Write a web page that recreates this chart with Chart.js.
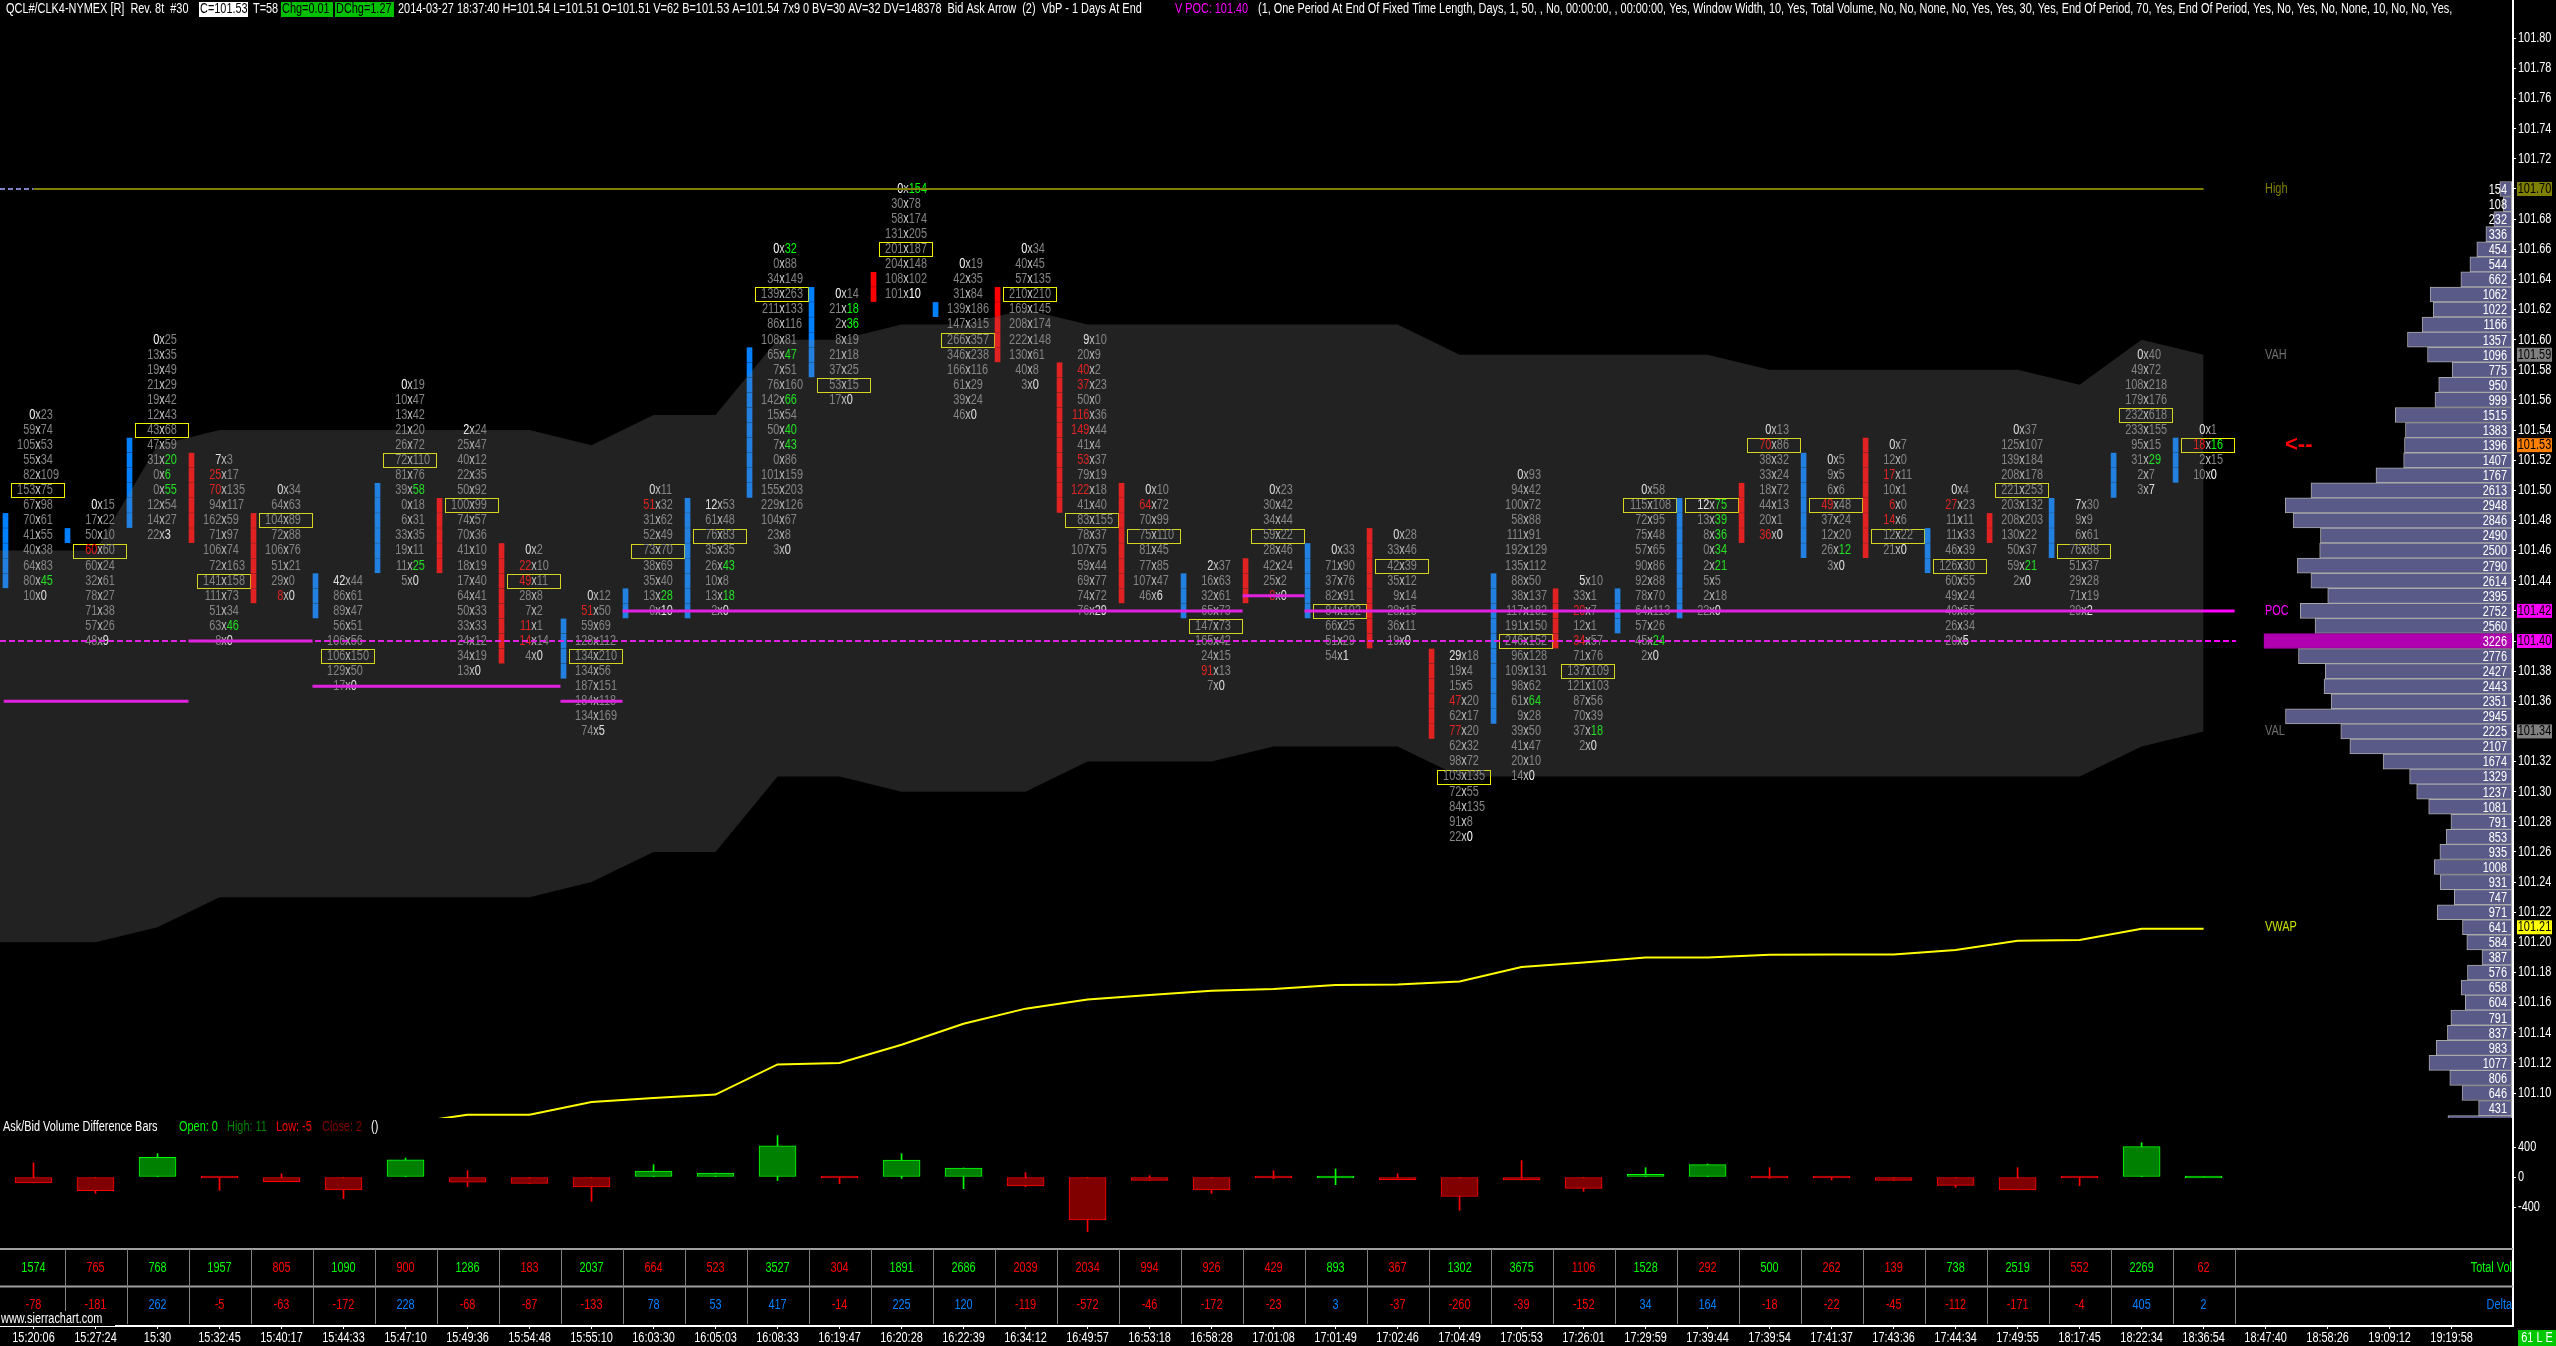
<!DOCTYPE html>
<html lang="en">
  <head>
    <meta charset="UTF-8" />
    <title>QCL#/CLK4-NYMEX</title>
    <script src="https://cdn.jsdelivr.net/npm/chart.js@4"></script>
    <style>
      html, body { margin: 0; padding: 0; background: #000; overflow: hidden; }
      canvas { display: block; }
    </style>
  </head>

  <body>
    <canvas id="myChart" width="2556" height="1346"></canvas>

    <script>
      const timeLabels = ["15:20:06","15:27:24","15:30","15:32:45","15:40:17","15:44:33","15:47:10","15:49:36","15:54:48","15:55:10","16:03:30","16:05:03","16:08:33","16:19:47","16:20:28","16:22:39","16:34:12","16:49:57","16:53:18","16:58:28","17:01:08","17:01:49","17:02:46","17:04:49","17:05:53","17:26:01","17:29:59","17:39:44","17:39:54","17:41:37","17:43:36","17:44:34","17:49:55","18:17:45","18:22:34","18:36:54","18:47:40","18:58:26","19:09:12","19:19:58"];

      // footprint cells, * marks a red bid or a green ask
      const footprintTop = [101.55,101.49,101.60,101.52,101.50,101.44,101.57,101.54,101.46,101.43,101.50,101.49,101.66,101.63,101.70,101.65,101.66,101.60,101.50,101.45,101.50,101.46,101.47,101.39,101.51,101.44,101.50,101.49,101.54,101.52,101.53,101.50,101.54,101.49,101.59,101.54];
      const boxRow = [5,3,6,8,2,5,5,5,2,4,4,2,3,6,4,5,3,12,3,4,3,4,2,8,11,6,1,0,1,3,6,5,4,3,4,1];
      const footprintRows = [
        ["0x23","59x74","105x53","55x34","82x109","153x75","67x98","70x61","41x55","40x38","64x83","80x*45","10x0"],
        ["0x15","17x22","50x10","*60x60","60x24","32x61","78x27","71x38","57x26","48x9"],
        ["0x25","13x35","19x49","21x29","19x42","12x43","43x68","47x59","31x*20","0x*6","0x*55","12x54","14x27","22x3"],
        ["7x3","*25x17","*70x135","94x117","162x59","71x97","106x74","72x163","141x158","111x73","51x34","63x*46","8x0"],
        ["0x34","64x63","104x89","72x88","106x76","51x21","29x0","*8x0"],
        ["42x44","86x61","89x47","56x51","106x56","106x150","129x50","17x0"],
        ["0x19","10x47","13x42","21x20","26x72","72x110","81x76","39x*58","0x18","6x31","33x35","19x11","11x*25","5x0"],
        ["2x24","25x47","40x12","22x35","50x92","100x99","74x57","70x36","41x10","18x19","17x40","64x41","50x33","33x33","24x12","34x19","13x0"],
        ["0x2","*22x10","*49x11","28x8","7x2","*11x1","*14x14","4x0"],
        ["0x12","*51x50","59x69","128x112","134x210","134x56","187x151","184x118","134x169","74x5"],
        ["0x11","*51x32","31x62","52x49","73x70","38x69","35x40","13x*28","0x10"],
        ["12x53","61x48","76x83","35x35","26x*43","10x8","13x*18","2x0"],
        ["0x*32","0x88","34x149","139x263","211x133","86x116","108x81","65x*47","7x51","76x160","142x*66","15x54","50x*40","7x*43","0x86","101x159","155x203","229x126","104x67","23x8","3x0"],
        ["0x14","21x*18","2x*36","8x19","21x18","37x25","53x15","17x0"],
        ["0x*154","30x78","58x174","131x205","201x187","204x148","108x102","101x10"],
        ["0x19","42x35","31x84","139x186","147x315","266x357","346x238","166x116","61x29","39x24","46x0"],
        ["0x34","40x45","57x135","210x210","169x145","208x174","222x148","130x61","40x8","3x0"],
        ["9x10","20x9","*40x2","*37x23","50x0","*116x36","*149x44","41x4","*53x37","79x19","*122x18","41x40","83x155","78x37","107x75","59x44","69x77","74x72","76x29"],
        ["0x10","*64x72","70x99","75x110","81x45","77x85","107x47","46x6"],
        ["2x37","16x63","32x61","65x73","147x73","165x42","24x15","*91x13","7x0"],
        ["0x23","30x42","34x44","59x22","28x46","42x24","25x2","*8x0"],
        ["0x33","71x90","37x76","82x91","84x102","66x25","51x29","54x1"],
        ["0x28","33x46","42x39","35x12","9x14","28x15","36x11","19x0"],
        ["29x18","19x4","15x5","*47x20","62x17","*77x20","62x32","98x72","103x135","72x55","84x135","91x8","22x0"],
        ["0x93","94x42","100x72","58x88","111x91","192x129","135x112","88x50","38x137","117x182","191x150","246x152","96x128","109x131","98x62","61x*64","9x28","39x50","41x47","20x10","14x0"],
        ["5x10","33x1","*20x7","12x1","*34x57","71x76","137x109","121x103","87x56","70x39","37x*18","2x0"],
        ["0x58","115x108","72x95","75x48","57x65","90x86","92x88","78x70","64x113","57x26","45x*24","2x0"],
        ["12x*75","13x*39","8x*36","0x*34","2x*21","5x5","2x18","22x0"],
        ["0x13","*70x86","38x32","33x24","18x72","44x13","20x1","*36x0"],
        ["0x5","9x5","6x6","*49x48","37x24","12x20","26x*12","3x0"],
        ["0x7","12x0","*17x11","10x1","*6x0","*14x6","12x22","21x0"],
        ["0x4","*27x23","11x11","11x33","46x39","126x30","60x55","49x24","40x55","26x34","20x5"],
        ["0x37","125x107","139x184","208x178","221x253","203x132","208x203","130x22","50x37","59x*21","2x0"],
        ["7x30","9x9","6x61","76x88","51x37","29x28","71x19","29x2"],
        ["0x40","49x72","108x218","179x176","232x618","233x155","95x15","31x*29","2x7","3x7"],
        ["0x1","*18x*16","2x15","10x0"]
      ];

      // open/close bodies next to each footprint
      const bodyHigh = [101.48,101.47,101.53,101.52,101.48,101.44,101.50,101.49,101.46,101.41,101.43,101.49,101.59,101.63,101.64,101.62,101.63,101.58,101.50,101.44,101.45,101.46,101.47,101.39,101.44,101.43,101.43,101.49,101.50,101.52,101.53,101.47,101.48,101.49,101.52,101.53];
      const bodyLow = [101.44,101.47,101.48,101.47,101.43,101.42,101.45,101.45,101.39,101.38,101.42,101.42,101.50,101.58,101.63,101.62,101.59,101.49,101.43,101.42,101.43,101.42,101.40,101.34,101.35,101.40,101.41,101.42,101.47,101.46,101.46,101.45,101.47,101.46,101.50,101.51];
      const bodyUp = [1,1,1,0,0,1,1,0,0,1,1,1,1,1,0,1,0,0,0,1,0,1,0,0,1,0,1,1,0,1,0,1,0,1,1,1];

      // value area, POC and VWAP per bar
      const vahByBar = [101.46,101.46,101.53,101.54,101.54,101.54,101.54,101.54,101.54,101.53,101.55,101.55,101.60,101.60,101.61,101.61,101.62,101.61,101.61,101.61,101.61,101.61,101.61,101.59,101.59,101.59,101.59,101.59,101.58,101.58,101.58,101.58,101.58,101.57,101.60,101.59];
      const valByBar = [101.20,101.20,101.21,101.23,101.23,101.23,101.23,101.23,101.23,101.24,101.26,101.26,101.31,101.31,101.30,101.30,101.30,101.32,101.32,101.32,101.33,101.33,101.33,101.31,101.31,101.31,101.31,101.31,101.31,101.31,101.31,101.31,101.31,101.31,101.33,101.34];
      const pocByBar = [101.36,101.36,101.36,101.40,101.40,101.37,101.37,101.37,101.37,101.36,101.42,101.42,101.42,101.42,101.42,101.42,101.42,101.42,101.42,101.42,101.43,101.42,101.42,101.42,101.42,101.42,101.42,101.42,101.42,101.42,101.42,101.42,101.42,101.42,101.42,101.42];
      const vwapBars = [6,7,8,9,10,11,12,13,14,15,16,17,18,19,20,21,22,23,24,25,26,27,28,29,30,31,32,33,34,35];
      const vwapValues = [101.0796,101.0856,101.0856,101.094,101.0967,101.099,101.119,101.12,101.132,101.146,101.156,101.162,101.165,101.1678,101.169,101.1717,101.172,101.174,101.1837,101.1866,101.19,101.19,101.1917,101.192,101.192,101.195,101.201,101.2015,101.209,101.209];
      const highPrice = 101.70;
      const vbpPoc = 101.40;

      // volume by price from 101.70 downwards, last row is cut off by the pane
      const profileVolume = [154,108,232,336,454,544,662,1062,1022,1166,1357,1096,775,950,999,1515,1383,1396,1407,1767,2613,2948,2846,2490,2500,2790,2614,2395,2752,2560,3226,2776,2427,2443,2351,2945,2225,2107,1674,1329,1237,1081,791,853,935,1008,931,747,971,641,584,387,576,658,604,791,837,983,1077,806,646,431,830];
      const profileLabelled = 62;

      // ask/bid difference bars and the two table rows
      const totalVol = [1574,765,768,1957,805,1090,900,1286,183,2037,664,523,3527,304,1891,2686,2039,2034,994,926,429,893,367,1302,3675,1106,1528,292,500,262,139,738,2519,552,2269,62];
      const totalUp = [1,0,1,1,0,1,0,1,0,1,0,0,1,0,1,1,0,0,0,0,0,1,0,1,1,0,1,0,1,0,0,1,1,0,1,0];
      const deltaClose = [-78,-181,262,-5,-63,-172,228,-68,-87,-133,78,53,417,-14,225,120,-119,-572,-46,-172,-23,3,-37,-260,-39,-152,34,164,-18,-22,-45,-112,-171,-4,405,2];
      const deltaHigh = [187,0,311,0,44,0,253,84,0,0,164,53,551,0,311,120,58,0,18,0,84,107,44,0,218,0,124,173,124,0,0,0,124,0,457,2];
      const deltaLow = [-78,-218,0,-178,-63,-289,0,-129,-87,-324,0,0,-49,-89,-18,-155,-130,-728,-46,-218,-23,-102,-37,-444,-39,-191,0,0,-18,-40,-45,-138,-171,-115,0,0];

      const priceTicks = [101.80,101.78,101.76,101.74,101.72,101.70,101.68,101.66,101.64,101.62,101.60,101.58,101.56,101.54,101.52,101.50,101.48,101.46,101.44,101.42,101.40,101.38,101.36,101.34,101.32,101.30,101.28,101.26,101.24,101.22,101.20,101.18,101.16,101.14,101.12,101.10];
      const deltaTicks = [400,0,-400];
      const badgePrices = [101.70,101.59,101.53,101.42,101.40,101.34,101.21];
      const badgeColors = ["#808000","#808080","#ff8000","#ff00ff","#ff00ff","#808080","#ffff00"];
      const hiddenTicks = [101.70,101.42,101.40,101.34];
      const sideNames = ["High","VAH","POC","VAL","VWAP"];
      const sidePrices = [101.70,101.59,101.42,101.34,101.21];
      const sideColors = ["#808000","#707070","#ff00ff","#707070","#c8e000"];

      const FONT = '"Liberation Sans", sans-serif';
      const SQUEEZE = 0.78;
      const xMin = -33.5 / 62;
      const xMax = 39.99;
      const ROW = 0.0047;

      const sameTick = (a, b) => Math.abs(a - b) < 0.001;

      const upBodies = [];
      const downBodies = [];
      bodyHigh.forEach((hi, i) => {
        const n = Math.round((hi - bodyLow[i]) * 100);
        for (let r = 0; r <= n; r++) {
          const p = hi - r * 0.01;
          (bodyUp[i] ? upBodies : downBodies).push({ x: i - 28 / 62, y: [p - ROW, p + ROW] });
        }
      });

      const pocSegments = [];
      pocByBar.forEach((p, i) => {
        pocSegments.push({ x: i === 0 ? -0.48 : i - 0.5, y: p }, { x: i + 0.5, y: p }, { x: i + 0.5, y: null });
      });

      const bar = (data, color, extra) =>
        Object.assign({ type: "bar", data, backgroundColor: color, grouped: false, borderWidth: 0, borderSkipped: false, xAxisID: "x", yAxisID: "y" }, extra);
      const line = (data, color, width, extra) =>
        Object.assign({ type: "line", data, borderColor: color, borderWidth: width, pointRadius: 0, tension: 0, xAxisID: "x", yAxisID: "y" }, extra);

      const profilePrices = profileVolume.map((v, i) => highPrice - i * 0.01);
      const maxVolume = Math.max(...profileVolume);

      const datasets = [
        bar(upBodies, "#0080ff", { barThickness: 5, order: 6 }),
        bar(downBodies, "#ff0000", { barThickness: 5, order: 6 }),
        line(pocSegments, "#ff00ff", 3, { spanGaps: false, order: 5 }),
        line([{ x: xMin, y: vbpPoc }, { x: 35.52, y: vbpPoc }], "#ff00ff", 2, { borderDash: [6, 3], order: 5 }),
        line([{ x: xMin, y: vahByBar[0] }].concat(vahByBar.map((y, x) => ({ x, y }))), "transparent", 0, {
          fill: "+1",
          backgroundColor: "rgba(133,133,133,0.255)",
          order: 2,
        }),
        line([{ x: xMin, y: valByBar[0] }].concat(valByBar.map((y, x) => ({ x, y }))), "transparent", 0, { order: 3 }),
        line([{ x: xMin, y: highPrice }, { x: 0, y: highPrice }], "#8080c8", 2, { borderDash: [5, 3], order: 1 }),
        line([{ x: 0, y: highPrice }, { x: 35, y: highPrice }], "#808000", 2, { order: 1 }),
        line(vwapBars.map((x, i) => ({ x, y: vwapValues[i] })), "#ffff00", 2, { order: 1 }),
        bar(profileVolume.map((v, i) => ({ x: v, y: profilePrices[i] })), (c) => (c.raw && c.raw.x === maxVolume ? "#b000b0" : "#5a5a88"), {
          indexAxis: "y",
          xAxisID: "xVol",
          barThickness: 15,
          borderWidth: 1,
          borderColor: (c) => (c.raw && c.raw.x === maxVolume ? "#b000b0" : "#a8a8a8"),
          order: 4,
        }),
        bar(deltaHigh.map((h, i) => ({ x: i, y: [deltaLow[i], h] })), deltaClose.map((c) => (c >= 0 ? "#00ff00" : "#ff0000")), {
          yAxisID: "yDelta",
          barThickness: 1,
          order: 8,
        }),
        bar(deltaClose.map((c, i) => ({ x: i, y: [0, c] })), deltaClose.map((c) => (c >= 0 ? "#008000" : "#800000")), {
          yAxisID: "yDelta",
          barThickness: 37,
          borderWidth: 1,
          borderColor: deltaClose.map((c) => (c >= 0 ? "#00ff00" : "#ff0000")),
          minBarLength: 2,
          order: 7,
        }),
      ];

      // the platform font is much narrower than anything installed, so squeeze it
      function text(ctx, str, x, y, color, align, maxWidth) {
        ctx.save();
        ctx.font = "14px " + FONT;
        ctx.fillStyle = color;
        ctx.textAlign = align || "left";
        ctx.textBaseline = "middle";
        ctx.translate(x, y);
        ctx.scale(SQUEEZE, 1);
        if (maxWidth) ctx.fillText(str, 0, 0, maxWidth / SQUEEZE);
        else ctx.fillText(str, 0, 0);
        ctx.restore();
      }

      const footprintPlugin = {
        id: "footprint",
        beforeDatasetsDraw(chart) {
          const ctx = chart.ctx;
          const { x, y } = chart.scales;
          ctx.save();
          ctx.font = "14px " + FONT;
          const half = (ctx.measureText("x").width * SQUEEZE) / 2;
          footprintRows.forEach((rows, col) => {
            const cx = x.getPixelForValue(col) + 4.5;
            rows.forEach((cell, r) => {
              const cy = y.getPixelForValue(footprintTop[col] - r * 0.01);
              const parts = cell.split("x");
              const bidRed = parts[0][0] === "*";
              const askGreen = parts[1][0] === "*";
              const bid = parts[0].replace("*", "");
              const ask = parts[1].replace("*", "");
              if (r === boxRow[col]) {
                ctx.strokeStyle = "#f0f000";
                ctx.lineWidth = 1;
                ctx.strokeRect(Math.round(cx - 27) + 0.5, Math.round(cy - 7) + 0.5, 53, 14);
              }
              text(ctx, "x", cx, cy, "#d0d0d0", "center");
              text(ctx, bid, cx - half, cy, bidRed ? "#ff0000" : r === 0 ? "#ffffff" : "#848484", "right");
              text(ctx, ask, cx + half, cy, askGreen ? "#00ff00" : r === rows.length - 1 ? "#ffffff" : "#848484", "left");
            });
          });
          ctx.restore();
        },
        afterDatasetsDraw(chart) {
          const ctx = chart.ctx;
          const { x, y, yDelta, yTable } = chart.scales;
          ctx.save();

          // axis labels
          x.ticks.forEach((t) => {
            text(ctx, timeLabels[t.value], x.getPixelForValue(t.value), 1338, "#ffffff", "center");
          });
          y.ticks.forEach((t) => {
            if (!hiddenTicks.some((h) => sameTick(h, t.value))) {
              text(ctx, t.value.toFixed(2), 2518, y.getPixelForValue(t.value), "#ffffff");
            }
          });
          yDelta.ticks.forEach((t) => {
            text(ctx, String(t.value), 2518, yDelta.getPixelForValue(t.value), "#ffffff");
          });

          // profile labels
          for (let i = 0; i < profileLabelled; i++) {
            text(ctx, String(profileVolume[i]), 2507, y.getPixelForValue(profilePrices[i]) + 1, "#ffffff", "right");
          }

          // price badges
          badgePrices.forEach((p, i) => {
            const py = y.getPixelForValue(p);
            ctx.fillStyle = badgeColors[i];
            ctx.fillRect(2517, py - 7, 35, 14);
            text(ctx, p.toFixed(2), 2534.5, py, "#000000", "center");
          });

          sideNames.forEach((n, i) => {
            text(ctx, n, 2265, y.getPixelForValue(sidePrices[i]), sideColors[i], "left");
          });
          ctx.font = "bold 22px " + FONT;
          ctx.fillStyle = "#ff0000";
          ctx.textAlign = "left";
          ctx.textBaseline = "middle";
          ctx.fillText("<--", 2285, y.getPixelForValue(101.53));

          // table under the difference bars
          const rowTop = yTable.getPixelForValue(2.05);
          const rowMid = yTable.getPixelForValue(1.05);
          const rowEnd = yTable.getPixelForValue(0.05);
          ctx.strokeStyle = "#a0a0a0";
          ctx.lineWidth = 2;
          ctx.beginPath();
          ctx.moveTo(0, rowTop);
          ctx.lineTo(x.right, rowTop);
          ctx.moveTo(0, rowMid);
          ctx.lineTo(x.right, rowMid);
          ctx.stroke();
          ctx.strokeStyle = "#808080";
          ctx.lineWidth = 1;
          ctx.beginPath();
          for (let i = 0; i < totalVol.length; i++) {
            const gx = Math.round(x.getPixelForValue(i + 0.5)) + 0.5;
            ctx.moveTo(gx, rowTop);
            ctx.lineTo(gx, rowEnd);
          }
          ctx.stroke();
          totalVol.forEach((v, i) => {
            text(ctx, String(v), x.getPixelForValue(i), yTable.getPixelForValue(1.55), totalUp[i] ? "#00ff00" : "#ff0000", "center");
            const d = deltaClose[i];
            text(ctx, String(d), x.getPixelForValue(i), yTable.getPixelForValue(0.55), d >= 0 ? "#0080ff" : "#ff0000", "center");
          });
          text(ctx, "Total Vol", x.right - 1, yTable.getPixelForValue(1.55), "#00ff00", "right");
          text(ctx, "Delta", x.right - 1, yTable.getPixelForValue(0.55), "#0080ff", "right");

          ctx.fillStyle = "#000000";
          ctx.fillRect(0, 1311, 115, 15);
          text(ctx, "www.sierrachart.com", 1, 1319, "#ffffff");

          ctx.fillStyle = "#00c800";
          ctx.fillRect(2518, 1330, 38, 16);
          text(ctx, "61 L E", 2537, 1338, "#ffffff", "center");

          // study title of the lower pane
          text(ctx, "Ask/Bid Volume Difference Bars", 3, 1127, "#ffffff", "left", 172);
          text(ctx, "Open: 0", 179, 1127, "#00ff00");
          text(ctx, "High: 11", 227, 1127, "#008000");
          text(ctx, "Low: -5", 276, 1127, "#ff0000");
          text(ctx, "Close: 2", 322, 1127, "#800000");
          text(ctx, "()", 371, 1127, "#ffffff");

          // header line
          text(ctx, "QCL#/CLK4-NYMEX [R]  Rev. 8t  #30", 6, 9, "#ffffff", "left", 187);
          ctx.fillStyle = "#ffffff";
          ctx.fillRect(199, 2, 49, 15);
          text(ctx, "C=101.53", 200, 9, "#000000", "left", 48);
          text(ctx, "T=58", 253, 9, "#ffffff");
          ctx.fillStyle = "#00c000";
          ctx.fillRect(281, 2, 52, 15);
          ctx.fillRect(335, 2, 59, 15);
          text(ctx, "Chg=0.01", 282, 9, "#000000", "left", 50);
          text(ctx, "DChg=1.27", 336, 9, "#000000", "left", 57);
          text(ctx, "2014-03-27 18:37:40 H=101.54 L=101.51 O=101.51 V=62 B=101.53 A=101.54 7x9 0 BV=30 AV=32 DV=148378  Bid Ask Arrow  (2)  VbP - 1 Days At End", 398, 9, "#ffffff", "left", 773);
          text(ctx, "V POC: 101.40", 1175, 9, "#ff00ff", "left", 73);
          text(ctx, "(1, One Period At End Of Fixed Time Length, Days, 1, 50, , No, 00:00:00, , 00:00:00, Yes, Window Width, 10, Yes, Total Volume, No, No, None, No, Yes, Yes, 30, Yes, End Of Period, 70, Yes, End Of Period, Yes, No, Yes, No, None, 10, No, No, Yes,", 1258, 9, "#ffffff", "left", 1252);
          ctx.restore();
        },
      };

      const fitRight = (s) => { s.width = 43; };

      const config = {
        data: { datasets },
        plugins: [footprintPlugin],
        options: {
          responsive: false,
          animation: false,
          devicePixelRatio: 1,
          layout: { padding: 0, autoPadding: false },
          plugins: { legend: { display: false }, tooltip: { enabled: false } },
          scales: {
            x: {
              type: "linear",
              position: "bottom",
              offset: false,
              min: xMin,
              max: xMax,
              afterBuildTicks: (s) => { s.ticks = timeLabels.map((t, i) => ({ value: i })); },
              afterFit: (s) => { s.height = 20; },
              ticks: { display: false },
              grid: { offset: false, drawOnChartArea: false, drawTicks: true, tickLength: 3, color: "#ffffff" },
              border: { color: "#ffffff", width: 2 },
            },
            xVol: {
              type: "linear",
              display: false,
              offset: false,
              reverse: true,
              min: -17,
              max: 32700,
            },
            y: {
              type: "linear",
              position: "right",
              offset: false,
              stack: "panes",
              stackWeight: 1118,
              weight: 1,
              min: 101.7 - (1118 - 189) / 1506.7,
              max: 101.7 + 189 / 1506.7,
              afterBuildTicks: (s) => { s.ticks = priceTicks.map((value) => ({ value })); },
              afterFit: fitRight,
              ticks: { display: false },
              grid: { offset: false, drawOnChartArea: false, tickLength: 3, color: "#ffffff" },
              border: { color: "#ffffff", width: 2 },
            },
            yDelta: {
              type: "linear",
              position: "right",
              offset: false,
              stack: "panes",
              stackWeight: 131,
              weight: 2,
              min: (1177 - 1249) / 0.075,
              max: (1177 - 1118) / 0.075,
              afterBuildTicks: (s) => { s.ticks = deltaTicks.map((value) => ({ value })); },
              afterFit: fitRight,
              ticks: { display: false },
              grid: { offset: false, drawOnChartArea: false, tickLength: 3, color: "#ffffff" },
              border: { color: "#ffffff", width: 2 },
            },
            yTable: {
              type: "linear",
              position: "right",
              offset: false,
              stack: "panes",
              stackWeight: 77,
              weight: 3,
              min: 0,
              max: 2.05,
              afterBuildTicks: (s) => { s.ticks = []; },
              afterFit: fitRight,
              ticks: { display: false },
              grid: { display: false },
              border: { color: "#ffffff", width: 2 },
            },
          },
        },
      };

      const ctx = document.getElementById("myChart");
      const myChart = new Chart(ctx, config);
    </script>
  </body>
</html>
